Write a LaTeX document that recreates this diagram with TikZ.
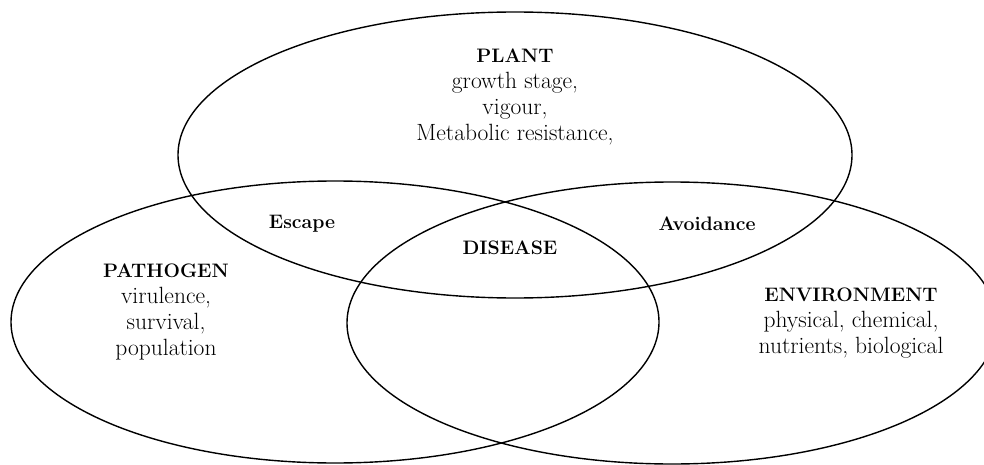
\documentclass[tikz,border=0pt]{standalone}
\newcommand{\hd}[1]{{\fontsize{19.5}{26}\selectfont\textbf{#1}}}
\begin{document}
\begin{tikzpicture}[x=1pt,y=-1pt, line join=round, line cap=round, font=\fontsize{23.5}{26}\selectfont]
		\tikzset{lbl/.style={align=center, inner sep=0pt}, ring/.style={line width=1.4pt}}
		\useasboundingbox (0,0) rectangle (984,465);
		% three circles of the disease triangle
		\draw[ring] (515,155) ellipse [x radius=337, y radius=143];
		\draw[ring] (335,322) ellipse [x radius=324, y radius=141];
		\draw[ring] (672,323) ellipse [x radius=325, y radius=141];
		\node[lbl] (plant) at (515,97) {\hd{PLANT}\\growth stage,\\vigour,\\Metabolic resistance,};
		\node[lbl] (pathogen) at (166,312) {\hd{PATHOGEN}\\virulence,\\survival,\\population};
		\node[lbl] (environment) at (851,323) {\hd{ENVIRONMENT}\\physical, chemical,\\nutrients, biological};
		\node[lbl] (escape) at (302,224) {\hd{Escape}};
		\node[lbl] (avoidance) at (707,224) {\hd{Avoidance}};
		\node[lbl] (disease) at (510,248) {\hd{DISEASE}};
\end{tikzpicture}
\end{document}
